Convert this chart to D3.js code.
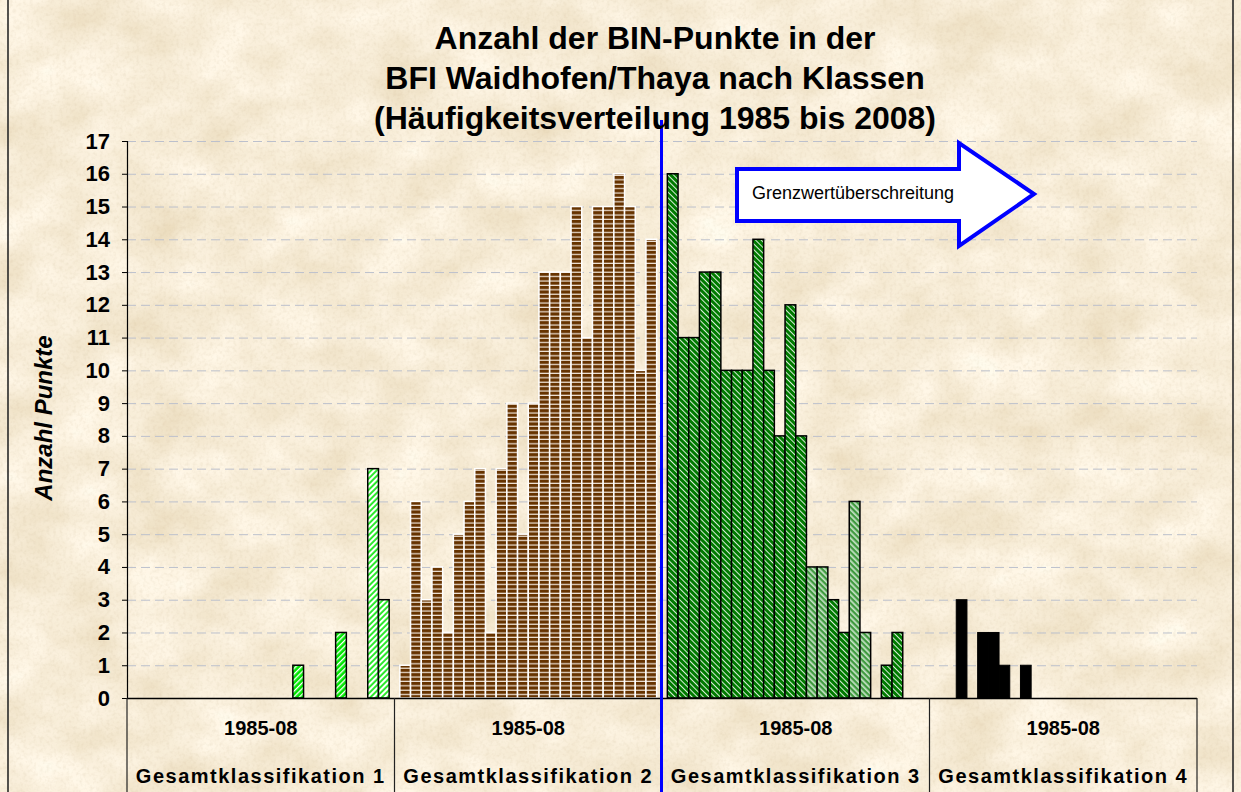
<!DOCTYPE html>
<html>
<head>
<meta charset="utf-8">
<script src="https://cdn.jsdelivr.net/npm/d3@7"></script>
<style>
  html, body { margin: 0; padding: 0; background: #efdcb6; }
  svg { display: block; }
  text { font-family: "Liberation Sans", Arial, sans-serif; fill: #000; }
</style>
</head>
<body>
<svg id="chart" width="1241" height="792"></svg>
<script>
// Years of the frequency distribution (one bar per year inside each class)
const years = [1985, 1986, 1987, 1988, 1989, 1990, 1991, 1992, 1993, 1994, 1995, 1996,
               1997, 1998, 1999, 2000, 2001, 2002, 2003, 2004, 2005, 2006, 2007, 2008];

// Class categories on the x axis
const classLabels = ["Gesamtklassifikation 1", "Gesamtklassifikation 2",
                     "Gesamtklassifikation 3", "Gesamtklassifikation 4"];
const periodLabel = "1985-08";

// Number of BIN points per year in each class
const klasse1 = [0, 0, 0, 0, 0, 0, 0, 0, 0, 0, 0, 0, 0, 0, 0, 1, 0, 0, 0, 2, 0, 0, 7, 3];
const klasse2 = [1, 6, 3, 4, 2, 5, 6, 7, 2, 7, 9, 5, 9, 13, 13, 13, 15, 11, 15, 15, 16, 15, 10, 14];
const klasse3 = [16, 11, 11, 13, 13, 10, 10, 10, 14, 10, 8, 12, 8, 4, 4, 3, 2, 6, 2, 0, 1, 2, 0, 0];
const klasse4 = [0, 0, 3, 0, 2, 2, 1, 0, 1, 0, 0, 0, 0, 0, 0, 0, 0, 0, 0, 0, 0, 0, 0, 0];

// Y axis tick values
const yTicks = [0, 1, 2, 3, 4, 5, 6, 7, 8, 9, 10, 11, 12, 13, 14, 15, 16, 17];

const titleLines = ["Anzahl der BIN-Punkte in der",
                    "BFI Waidhofen/Thaya nach Klassen",
                    "(Häufigkeitsverteilung 1985 bis 2008)"];
const yTitle = "Anzahl Punkte";
const arrowText = "Grenzwertüberschreitung";

const classValues = [klasse1, klasse2, klasse3, klasse4];

// Bar fill per class; some years use a lighter hatch variant
const classFill = ["url(#hatchGreen)", "url(#brickBrown)", "url(#hatchDark)", "#000"];
const classFillLight = ["url(#hatchGreenLight)", "url(#brickBrown)", "url(#hatchDarkLight)", "#000"];
const classStroke = ["#000", "#fff", "#000", "#000"];
const lightYears = [[2007, 2008], [], [1998, 1999, 2002, 2003], []];

const W = 1241, H = 792;
const plot = { left: 127, right: 1197, top: 141, bottom: 698 };

const svg = d3.select("#chart");
const defs = svg.append("defs");

// Parchment background texture
const f = defs.append("filter").attr("id", "parchment")
  .attr("x", 0).attr("y", 0).attr("width", W).attr("height", H)
  .attr("filterUnits", "userSpaceOnUse");
f.append("feTurbulence").attr("type", "fractalNoise").attr("baseFrequency", "0.016 0.02")
  .attr("numOctaves", 5).attr("seed", 11).attr("result", "noise");
f.append("feColorMatrix").attr("in", "noise").attr("type", "matrix")
  .attr("values", "0.24 0 0 0 0.82  0.30 0 0 0 0.70  0.40 0 0 0 0.49  0 0 0 0 1")
  .attr("result", "base");
f.append("feTurbulence").attr("type", "fractalNoise").attr("baseFrequency", "0.3")
  .attr("numOctaves", 2).attr("seed", 4).attr("result", "grain");
f.append("feColorMatrix").attr("in", "grain").attr("type", "matrix")
  .attr("values", "0 0 0 0 0.62  0 0 0 0 0.5  0 0 0 0 0.32  0.5 0 0 0 -0.22")
  .attr("result", "grainC");
f.append("feComposite").attr("in", "grainC").attr("in2", "base").attr("operator", "over");

// Diagonal hatch patterns
function hatch(id, bg, stripe, stripeW, angle) {
  const p = defs.append("pattern").attr("id", id)
    .attr("patternUnits", "userSpaceOnUse").attr("width", 4).attr("height", 4)
    .attr("patternTransform", `rotate(${angle})`);
  p.append("rect").attr("width", 4).attr("height", 4).attr("fill", bg);
  p.append("rect").attr("x", 0).attr("width", stripeW).attr("height", 4).attr("fill", stripe);
}
hatch("hatchGreen", "#00e600", "#ffffff", 1.3, 45);
hatch("hatchGreenLight", "#22e822", "#ffffff", 2.1, 45);
hatch("hatchDark", "#007a00", "#d9ecd9", 1.0, -45);
hatch("hatchDarkLight", "#3f9a3f", "#c6e2c6", 1.7, -45);

// Brick-like horizontal pattern for class 2
const pb = defs.append("pattern").attr("id", "brickBrown")
  .attr("patternUnits", "userSpaceOnUse").attr("width", 8).attr("height", 4.4);
pb.append("rect").attr("width", 8).attr("height", 4.4).attr("fill", "#663300");
pb.append("rect").attr("y", 3.2).attr("width", 8).attr("height", 1.2).attr("fill", "#f1e6da");

// Background
svg.append("rect").attr("width", W).attr("height", H).attr("filter", "url(#parchment)");

// Outer frame
svg.append("rect").attr("x", 8).attr("y", -3).attr("width", 1225).attr("height", H + 6)
  .attr("fill", "none").attr("stroke", "#2a2a2a").attr("stroke-width", 1.6);

// Scales
const x0 = d3.scaleBand().domain(classLabels).range([plot.left, plot.right])
  .paddingInner(0).paddingOuter(0);
const x1 = d3.scaleBand().domain(years).range([0, x0.bandwidth()])
  .paddingInner(0).paddingOuter(0.5);
const y = d3.scaleLinear().domain([0, 17]).range([plot.bottom, plot.top]);

// Horizontal dashed gridlines
svg.append("g").selectAll("line").data(yTicks.filter(t => t > 0)).join("line")
  .attr("x1", plot.left).attr("x2", plot.right)
  .attr("y1", d => y(d) + 0.5).attr("y2", d => y(d) + 0.5)
  .attr("stroke", "#bcc0cc").attr("stroke-width", 1).attr("stroke-dasharray", "9,5");

// Bars
const barData = [];
classValues.forEach((vals, ci) => {
  vals.forEach((v, yi) => {
    if (v > 0) barData.push({ ci, cls: classLabels[ci], year: years[yi], value: v });
  });
});
svg.append("g").selectAll("rect").data(barData).join("rect")
  .attr("x", d => x0(d.cls) + x1(d.year))
  .attr("y", d => y(d.value))
  .attr("width", x1.bandwidth())
  .attr("height", d => y(0) - y(d.value))
  .attr("fill", d => lightYears[d.ci].includes(d.year) ? classFillLight[d.ci] : classFill[d.ci])
  .attr("stroke", d => classStroke[d.ci])
  .attr("stroke-width", d => d.ci === 3 ? 1 : 1.5);

// Y axis
const yAxis = d3.axisLeft(y).tickValues(yTicks).tickSize(5).tickPadding(12)
  .tickFormat(d3.format("d"));
const gy = svg.append("g").attr("transform", `translate(${plot.left},0)`).call(yAxis);
gy.select(".domain").attr("stroke", "#000").attr("stroke-width", 1.2);
gy.selectAll(".tick line").attr("stroke", "#000");
gy.selectAll(".tick text")
  .style("font-family", '"Liberation Sans", Arial, sans-serif')
  .style("font-size", "22px").style("font-weight", "bold").attr("fill", "#000");

// X baseline and category dividers
svg.append("line").attr("x1", plot.left).attr("x2", plot.right)
  .attr("y1", plot.bottom + 0.5).attr("y2", plot.bottom + 0.5)
  .attr("stroke", "#000").attr("stroke-width", 1.3);
const dividers = classLabels.map(c => x0(c)).concat([plot.right]);
svg.append("g").selectAll("line").data(dividers).join("line")
  .attr("x1", d => d).attr("x2", d => d)
  .attr("y1", plot.bottom).attr("y2", H)
  .attr("stroke", "#222").attr("stroke-width", 1.2);

// Category labels
const gx = svg.append("g");
gx.selectAll("text.period").data(classLabels).join("text").attr("class", "period")
  .attr("x", d => x0(d) + x0.bandwidth() / 2).attr("y", 735)
  .attr("text-anchor", "middle").style("font-size", "20px").style("font-weight", "bold")
  .text(periodLabel);
gx.selectAll("text.cls").data(classLabels).join("text").attr("class", "cls")
  .attr("x", d => x0(d) + x0.bandwidth() / 2).attr("y", 783)
  .attr("text-anchor", "middle").style("font-size", "20px").style("font-weight", "bold")
  .style("letter-spacing", "1.5px")
  .text(d => d);

// Limit line between class 2 and class 3
const limitX = x0(classLabels[2]) - 0.5;
svg.append("line").attr("x1", limitX).attr("x2", limitX).attr("y1", 120).attr("y2", H)
  .attr("stroke", "#0000ff").attr("stroke-width", 3);

// Block arrow annotation
const arrow = [[737, 169], [959, 169], [959, 143], [1034, 194], [959, 246], [959, 221], [737, 221]];
svg.append("path").attr("d", d3.line()(arrow) + "Z")
  .attr("fill", "#fff").attr("stroke", "#0000ff").attr("stroke-width", 4)
  .attr("stroke-linejoin", "miter");
svg.append("text").attr("x", 752).attr("y", 199)
  .style("font-size", "18px").text(arrowText);

// Title
svg.append("g").selectAll("text").data(titleLines).join("text")
  .attr("x", 655).attr("y", (d, i) => 49 + i * 40)
  .attr("text-anchor", "middle").style("font-size", "32px").style("font-weight", "bold")
  .text(d => d);

// Y axis title
svg.append("text").attr("transform", "translate(52,418) rotate(-90)")
  .attr("text-anchor", "middle").style("font-size", "24px")
  .style("font-weight", "bold").style("font-style", "italic")
  .text(yTitle);
</script>
</body>
</html>
